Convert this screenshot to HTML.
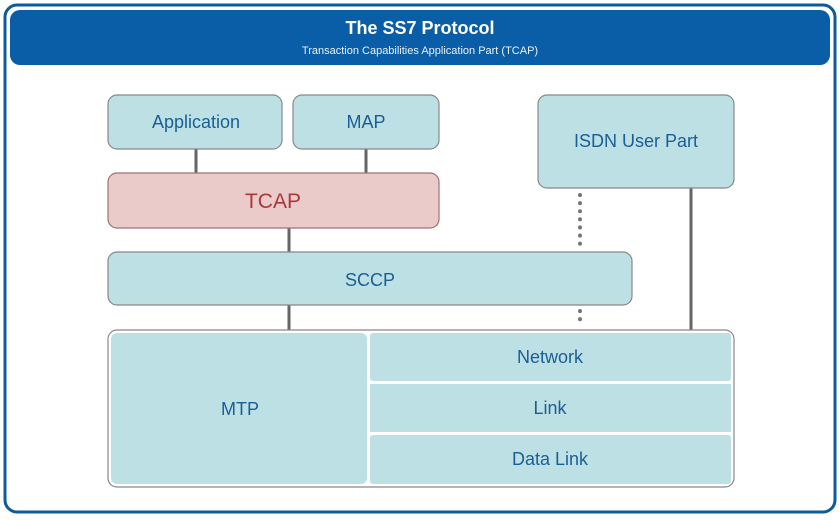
<!DOCTYPE html>
<html><head><style>body{margin:0;background:#fff}</style></head><body>
<svg width="840" height="516" xmlns="http://www.w3.org/2000/svg" font-family="Liberation Sans, sans-serif">
<rect x="0" y="0" width="840" height="516" fill="#fff"/>
<rect x="5" y="5" width="830" height="507" rx="12" fill="none" stroke="#0d5b99" stroke-width="3"/>
<rect x="10" y="10" width="820" height="55" rx="10" fill="#0a5ea8"/>
<text x="420" y="34" text-anchor="middle" font-size="18" font-weight="bold" fill="#fff">The SS7 Protocol</text>
<text x="420" y="54" text-anchor="middle" font-size="11" fill="#e8f0f8">Transaction Capabilities Application Part (TCAP)</text>
<g stroke="#666" stroke-width="3">
<line x1="196" y1="149" x2="196" y2="173"/>
<line x1="366" y1="149" x2="366" y2="173"/>
<line x1="289" y1="228" x2="289" y2="252"/>
<line x1="289" y1="305" x2="289" y2="330"/>
<line x1="691" y1="188" x2="691" y2="330"/>
</g>
<g stroke="#777" stroke-width="4" stroke-dasharray="0.1,8" stroke-linecap="round">
<line x1="580" y1="195" x2="580" y2="248"/>
<line x1="580" y1="311" x2="580" y2="327"/>
</g>
<g stroke="#888" stroke-width="1.2" fill="#bde0e4">
<rect x="108" y="95" width="174" height="54" rx="9"/>
<rect x="293" y="95" width="146" height="54" rx="9"/>
<rect x="538" y="95" width="196" height="93" rx="9"/>
<rect x="108" y="173" width="331" height="55" rx="9" fill="#ebcaca" stroke="#a07070"/>
<rect x="108" y="252" width="524" height="53" rx="9"/>
<rect x="108" y="330" width="626" height="157" rx="9" fill="#fff"/>
</g>
<g fill="#bde0e4">
<rect x="111" y="333" width="256" height="151" rx="6"/>
<rect x="370" y="333" width="361" height="48" rx="3"/>
<rect x="370" y="384" width="361" height="48"/>
<rect x="370" y="435" width="361" height="49" rx="3"/>
</g>
<g font-size="18" fill="#1a5e96" text-anchor="middle">
<text x="196" y="128">Application</text>
<text x="366" y="128">MAP</text>
<text x="636" y="147">ISDN User Part</text>
<text x="370" y="286">SCCP</text>
<text x="240" y="415">MTP</text>
<text x="550" y="363">Network</text>
<text x="550" y="414">Link</text>
<text x="550" y="465">Data Link</text>
<text x="273" y="208" font-size="21" fill="#a83a3a">TCAP</text>
</g>
</svg>
</body></html>
